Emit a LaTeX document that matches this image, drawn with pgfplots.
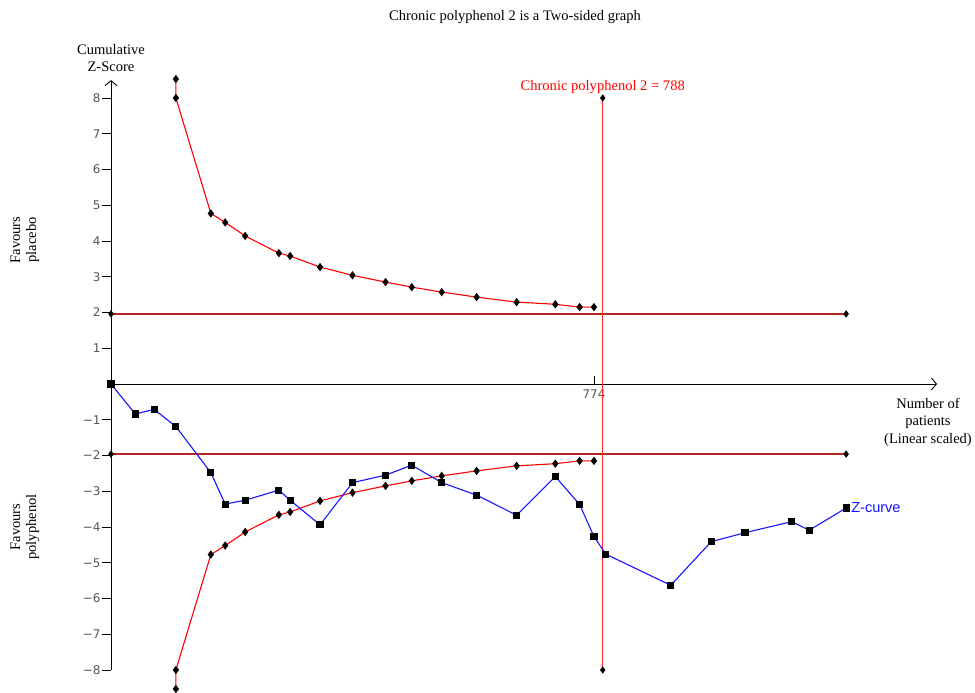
\documentclass[border=0pt]{standalone}
\usepackage{fontspec}
\setmainfont{Liberation Serif}
\newfontfamily\ticksans{DejaVu Sans}
\newfontfamily\arial{Liberation Sans}
\usepackage{pgfplots}
\pgfplotsset{compat=1.18}
\usetikzlibrary{arrows.meta}
\definecolor{hred}{RGB}{178,40,40}
\definecolor{tickgrey}{RGB}{85,85,85}
\definecolor{zblue}{RGB}{20,20,255}
\begin{document}
\begin{tikzpicture}[x=1bp,y=1bp]
\useasboundingbox (0,0) rectangle (975,693);
\begin{axis}[
  at={(111bp,309bp)}, anchor=origin,
  x=0.624bp, y=35.75bp,
  xmin=0, xmax=1323.7, ymin=-8, ymax=8.5,
  axis lines=middle,
  clip=false,
  axis line style={line width=0.9bp, black},
  x axis line style={-{Straight Barb[length=5bp,width=12bp,line width=0.9bp]}},
  y axis line style={-{Straight Barb[length=5bp,width=12bp,line width=0.9bp]}},
  tick align=outside,
  major tick length=9bp,
  tick style={line width=0.9bp, black},
  ytick={-8,-7,-6,-5,-4,-3,-2,-1,1,2,3,4,5,6,7,8},
  yticklabels={−8,−7,−6,−5,−4,−3,−2,−1,1,2,3,4,5,6,7,8},
  ytick pos=left,
  xtick=\empty,
  extra x ticks={774},
  extra x tick labels={774},
  extra x tick style={tick align=inside, major tick length=8bp},
  tick label style={font=\fontsize{12}{14}\ticksans, text=tickgrey},
  y tick label style={xshift=2bp},
  x tick label style={yshift=-2bp},
]
% horizontal conventional boundaries
\addplot[hred, line width=1.5bp, mark=diamond*, mark size=2.5bp, mark options={black, solid}] coordinates {(0,1.96) (1178,1.96)};
\addplot[hred, line width=1.5bp, mark=diamond*, mark size=2.5bp, mark options={black, solid}] coordinates {(0,-1.96) (1178,-1.96)};
% required information size
\addplot[red!85!white, line width=1.4bp, mark=diamond*, mark size=2.5bp, mark options={black, solid}] coordinates {(788,8) (788,-8)};
% upper monitoring boundary
\addplot[red, line width=1.1bp, mark=diamond*, mark size=3.3bp, mark options={black, solid}] coordinates {
(104,8.53) (104,8.0) (160,4.77) (183,4.52) (215,4.14) (269,3.66) (287,3.58) (335,3.27)
(387,3.04) (440,2.85) (482,2.71) (530,2.57) (586,2.43) (650,2.29) (712,2.23) (751,2.15) (774,2.15)};
% lower monitoring boundary
\addplot[red, line width=1.1bp, mark=diamond*, mark size=3.3bp, mark options={black, solid}] coordinates {
(104,-8.53) (104,-8.0) (160,-4.77) (183,-4.52) (215,-4.14) (269,-3.66) (287,-3.58) (335,-3.27)
(387,-3.04) (440,-2.85) (482,-2.71) (530,-2.57) (586,-2.43) (650,-2.29) (712,-2.23) (751,-2.15) (774,-2.15)};
% Z-curve
\addplot[zblue, line width=1.1bp, mark=square*, mark size=3bp, mark options={black, solid}] coordinates {
(0,0) (39,-0.84) (69,-0.71) (104,-1.19) (160,-2.48) (183,-3.36) (215,-3.25) (269,-2.97)
(287,-3.25) (335,-3.94) (387,-2.76) (440,-2.55) (482,-2.27) (530,-2.76) (586,-3.11)
(650,-3.67) (712,-2.59) (751,-3.37) (774,-4.27) (793,-4.76) (897,-5.63) (962,-4.41)
(1016,-4.16) (1091,-3.85) (1119,-4.09) (1178,-3.47)};
\node[anchor=west, text=zblue, font=\fontsize{14.6}{16}\arial, inner sep=0pt] at (axis cs:1178,-3.47) {\hspace{5bp}Z-curve};
\node[text=red, font=\fontsize{14.6}{16}\selectfont, inner sep=0pt] at (axis cs:788,8.31) {Chronic polyphenol 2 = 788};
\end{axis}
\node[font=\fontsize{14.6}{16}\selectfont, inner sep=0pt] at (515,676) {Chronic polyphenol 2 is a Two-sided graph};
\node[font=\fontsize{14.6}{17}\selectfont, align=center, inner sep=0pt] at (111,634.5) {Cumulative\\Z-Score};
\node[font=\fontsize{14.6}{16}\selectfont, align=center, inner sep=0pt, rotate=90] at (25,453) {Favours\\placebo};
\node[font=\fontsize{14.6}{16}\selectfont, align=center, inner sep=0pt, rotate=90] at (25,166) {Favours\\polyphenol};
\node[font=\fontsize{14.6}{17.5}\selectfont, align=center, inner sep=0pt] at (928,271) {Number of\\patients\\(Linear scaled)};
\end{tikzpicture}
\end{document}
